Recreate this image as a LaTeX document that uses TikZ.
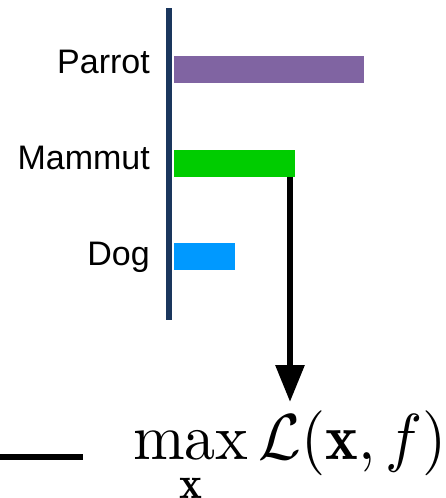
\documentclass[tikz,border=0pt]{standalone}
\usepackage{fontspec}
\setsansfont{Liberation Sans}
\usepackage{amsmath}
\usepackage{graphicx}
\usetikzlibrary{arrows.meta}
\definecolor{axisnavy}{HTML}{1A365D}
\definecolor{barpurple}{HTML}{8064A2}
\definecolor{bargreen}{HTML}{00CC00}
\definecolor{barblue}{HTML}{0099FF}
\tikzset{
  lbl/.style={font=\sffamily\fontsize{34}{40}\selectfont, inner sep=0pt, anchor=base east},
  bar/.style={inner sep=0pt, outer sep=0pt, minimum height=26.5pt, anchor=north west, draw=none},
  axisline/.style={draw=axisnavy, line width=6pt},
  arr/.style={draw=black, line width=6pt, -{Triangle[width=28pt, length=37pt]}},
  rule/.style={draw=black, line width=6pt},
}
\begin{document}
\begin{tikzpicture}[x=1pt, y=-1pt]
\useasboundingbox (0,0) rectangle (446,498);
% axis
\coordinate (axtop) at (169,8);
\coordinate (axbot) at (169,320);
\draw[axisline] (axtop) -- (axbot);
% labels
\node[lbl] (lparrot) at (150,73) {Parrot};
\node[lbl] (lmammut) at (150,169) {Mammut};
\node[lbl] (ldog) at (150,265) {Dog};
% bars
\node[bar, fill=barpurple, minimum width=190.5pt] (bparrot) at (173.5,56) {};
\node[bar, fill=bargreen, minimum width=121.5pt] (bmammut) at (173.5,150) {};
\node[bar, fill=barblue, minimum width=61.5pt] (bdog) at (173.5,243) {};
% formula
\node[inner sep=0pt, outer sep=0pt, anchor=base west] (formula) at (133,459)
  {\scalebox{6.2}[6.5]{$\displaystyle\max_{\mathbf{x}}\mathcal{L}(\mathbf{x},f)$}};
% arrow
\coordinate (ax) at (290,0);
\coordinate (tip) at (290,402);
\draw[arr] (bmammut.south -| ax) -- (tip);
% left rule
\coordinate (ruleA) at (0,457);
\coordinate (ruleB) at (83,457);
\draw[rule] (ruleA) -- (ruleB);
\end{tikzpicture}
\end{document}
